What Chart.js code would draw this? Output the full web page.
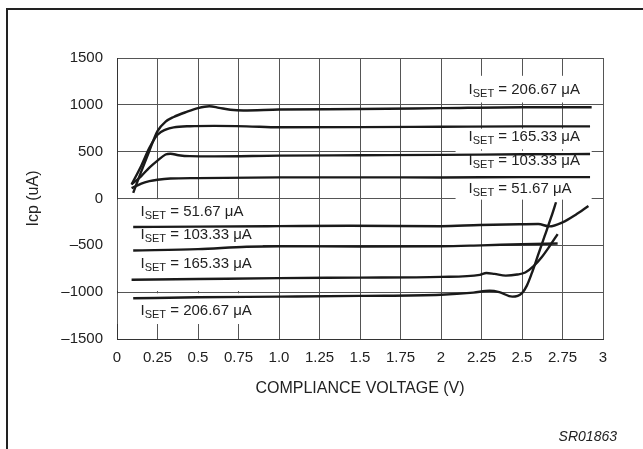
<!DOCTYPE html>
<html>
<head>
<meta charset="utf-8">
<script src="https://cdn.jsdelivr.net/npm/chart.js@4.4.1/dist/chart.umd.min.js"></script>
<style>
  html, body { margin: 0; padding: 0; background: #fff; }
  #wrap { position: relative; width: 643px; height: 449px; overflow: hidden; }
  #frame { position: absolute; left: 6px; top: 8px; right: -4px; bottom: -4px;
           border-top: 2px solid #222; border-left: 2px solid #222; }
  #c { position: absolute; left: 0; top: 0; }
  #code { position: absolute; right: 26px; top: 428px; font: italic 14px "Liberation Sans", Arial, sans-serif; color: #222; }
</style>
</head>
<body>
<div id="wrap">
  <div id="frame"></div>
  <canvas id="c" width="643" height="449"></canvas>
  <div id="code">SR01863</div>
</div>
<script>
// tick labels
const xTickLabels = ['0', '0.25', '0.5', '0.75', '1.0', '1.25', '1.5', '1.75', '2', '2.25', '2.5', '2.75', '3'];
const yTickLabels = ['–1500', '–1000', '–500', '0', '500', '1000', '1500'];

// ISET curves, source side (positive Icp)
const vPos206 = [0.10, 0.15, 0.20, 0.25, 0.30, 0.35, 0.43, 0.50, 0.57, 0.63, 0.70, 0.78, 1.0, 1.5, 2.0, 2.5, 2.93];
const iPos206 = [60, 290, 510, 720, 820, 870, 925, 965, 985, 968, 948, 940, 950, 955, 965, 975, 975];
const vPos165 = [0.09, 0.15, 0.20, 0.25, 0.30, 0.35, 0.45, 0.60, 0.80, 1.0, 1.5, 2.0, 2.5, 2.92];
const iPos165 = [150, 350, 540, 680, 735, 760, 772, 775, 770, 760, 762, 766, 770, 770];
const vPos103 = [0.09, 0.15, 0.20, 0.25, 0.30, 0.33, 0.38, 0.45, 0.60, 1.0, 1.5, 2.0, 2.5, 2.92];
const iPos103 = [150, 240, 330, 405, 470, 478, 462, 452, 450, 458, 462, 466, 472, 475];
const vPos51 = [0.09, 0.15, 0.20, 0.25, 0.33, 0.50, 1.0, 1.5, 2.0, 2.5, 2.92];
const iPos51 = [110, 160, 185, 200, 213, 218, 225, 226, 225, 228, 228];

// ISET curves, sink side (negative Icp)
const vNeg51 = [0.10, 0.50, 1.0, 1.44, 2.0, 2.24, 2.5, 2.60, 2.67, 2.75, 2.83, 2.91];
const iNeg51 = [-305, -300, -295, -291, -296, -283, -275, -273, -298, -255, -175, -80];
const vNeg103 = [0.10, 0.50, 0.80, 1.0, 1.5, 2.0, 2.25, 2.5, 2.72];
const iNeg103 = [-555, -540, -515, -510, -512, -510, -500, -488, -480];
const vNeg165 = [0.09, 0.50, 1.0, 1.5, 2.0, 2.24, 2.28, 2.33, 2.40, 2.47, 2.52, 2.57, 2.62, 2.67, 2.72];
const iNeg165 = [-868, -860, -850, -845, -837, -815, -795, -805, -823, -812, -790, -725, -630, -510, -380];
const vNeg206 = [0.10, 0.50, 1.0, 1.5, 2.0, 2.2, 2.3, 2.36, 2.44, 2.50, 2.53, 2.56, 2.60, 2.64, 2.68, 2.71];
const iNeg206 = [-1065, -1055, -1048, -1040, -1028, -1005, -985, -1000, -1048, -1010, -930, -800, -600, -400, -200, -40];

// curve labels (ISET values)
const labelSets = ['206.67', '165.33', '103.33', '51.67', '51.67', '103.33', '165.33', '206.67'];

function pts(vs, is) {
    return vs.map((v, k) => ({ x: v, y: is[k] }));
}

const curves = [
    [vPos206, iPos206], [vPos165, iPos165], [vPos103, iPos103], [vPos51, iPos51],
    [vNeg51, iNeg51], [vNeg103, iNeg103], [vNeg165, iNeg165], [vNeg206, iNeg206]
];

// label anchors (left edge, middle) and white patches, in axis units
const labelAnchors = [[2.17, 1166], [2.17, 664], [2.17, 409], [2.17, 109],
                      [0.145, -136], [0.145, -382], [0.145, -690], [0.145, -1190]];
const patches = [[2.09, 2.985, 1310, 1025], [2.09, 2.985, 745, 525], [2.09, 2.93, 510, -12],
                 [0.005, 0.9, -8, -988], [0.005, 0.97, -1012, -1340]];

const FONT = '"Liberation Sans", Arial, sans-serif';

const labelPlugin = {
    id: 'labelPlugin',
    beforeDatasetsDraw(chart) {
        const { ctx, scales: { x, y } } = chart;
        ctx.save();
        ctx.fillStyle = '#fff';
        patches.forEach(p => {
            const x0 = x.getPixelForValue(p[0]), x1 = x.getPixelForValue(p[1]);
            const y0 = y.getPixelForValue(p[2]), y1 = y.getPixelForValue(p[3]);
            ctx.fillRect(x0, y0, x1 - x0, y1 - y0);
        });
        ctx.fillStyle = '#222';
        ctx.textBaseline = 'alphabetic';
        labelSets.forEach((s, k) => {
            let px = x.getPixelForValue(labelAnchors[k][0]);
            const py = y.getPixelForValue(labelAnchors[k][1]) + 5;
            ctx.font = '15px ' + FONT;
            ctx.fillText('I', px, py);
            px += ctx.measureText('I').width;
            ctx.font = '11px ' + FONT;
            ctx.fillText('SET', px, py + 3);
            px += ctx.measureText('SET').width;
            ctx.font = '15px ' + FONT;
            ctx.fillText(' = ' + s + ' μA', px, py);
        });
        ctx.restore();
    }
};

new Chart(document.getElementById('c'), {
    type: 'line',
    data: {
        datasets: curves.map(c => ({
            data: pts(c[0], c[1]),
            borderColor: '#1a1a1a',
            borderWidth: 2.4,
            pointRadius: 0,
            fill: false,
            cubicInterpolationMode: 'monotone'
        }))
    },
    options: {
        responsive: false,
        animation: false,
        layout: { padding: { top: 58, right: 40, left: 0, bottom: 0 } },
        plugins: { legend: { display: false }, tooltip: { enabled: false } },
        scales: {
            x: {
                type: 'linear',
                min: 0,
                max: 3,
                afterFit: s => { s.height = 110; },
                afterBuildTicks: s => { s.ticks = xTickLabels.map((t, k) => ({ value: k * 0.25 })); },
                ticks: {
                    color: '#222',
                    font: { family: FONT, size: 15 },
                    padding: 10,
                    maxRotation: 0,
                    autoSkip: false,
                    callback: (v, k) => xTickLabels[k]
                },
                grid: { color: '#555', lineWidth: 1, drawTicks: false },
                border: { color: '#333', width: 1 },
                title: {
                    display: true,
                    text: 'COMPLIANCE VOLTAGE (V)',
                    color: '#222',
                    font: { family: FONT, size: 16 },
                    padding: { top: 0, bottom: 51 }
                }
            },
            y: {
                type: 'linear',
                min: -1500,
                max: 1500,
                afterFit: s => { s.width = 117; },
                afterBuildTicks: s => { s.ticks = yTickLabels.map((t, k) => ({ value: -1500 + k * 500 })); },
                ticks: {
                    color: '#222',
                    font: { family: FONT, size: 15 },
                    padding: 14,
                    callback: (v, k) => yTickLabels[k]
                },
                grid: { color: '#555', lineWidth: 1, drawTicks: false },
                border: { color: '#333', width: 1 },
                title: {
                    display: true,
                    text: 'Icp (uA)',
                    color: '#222',
                    font: { family: FONT, size: 16 },
                    padding: { top: 24, bottom: 0 }
                }
            }
        }
    },
    plugins: [labelPlugin]
});
</script>
</body>
</html>
